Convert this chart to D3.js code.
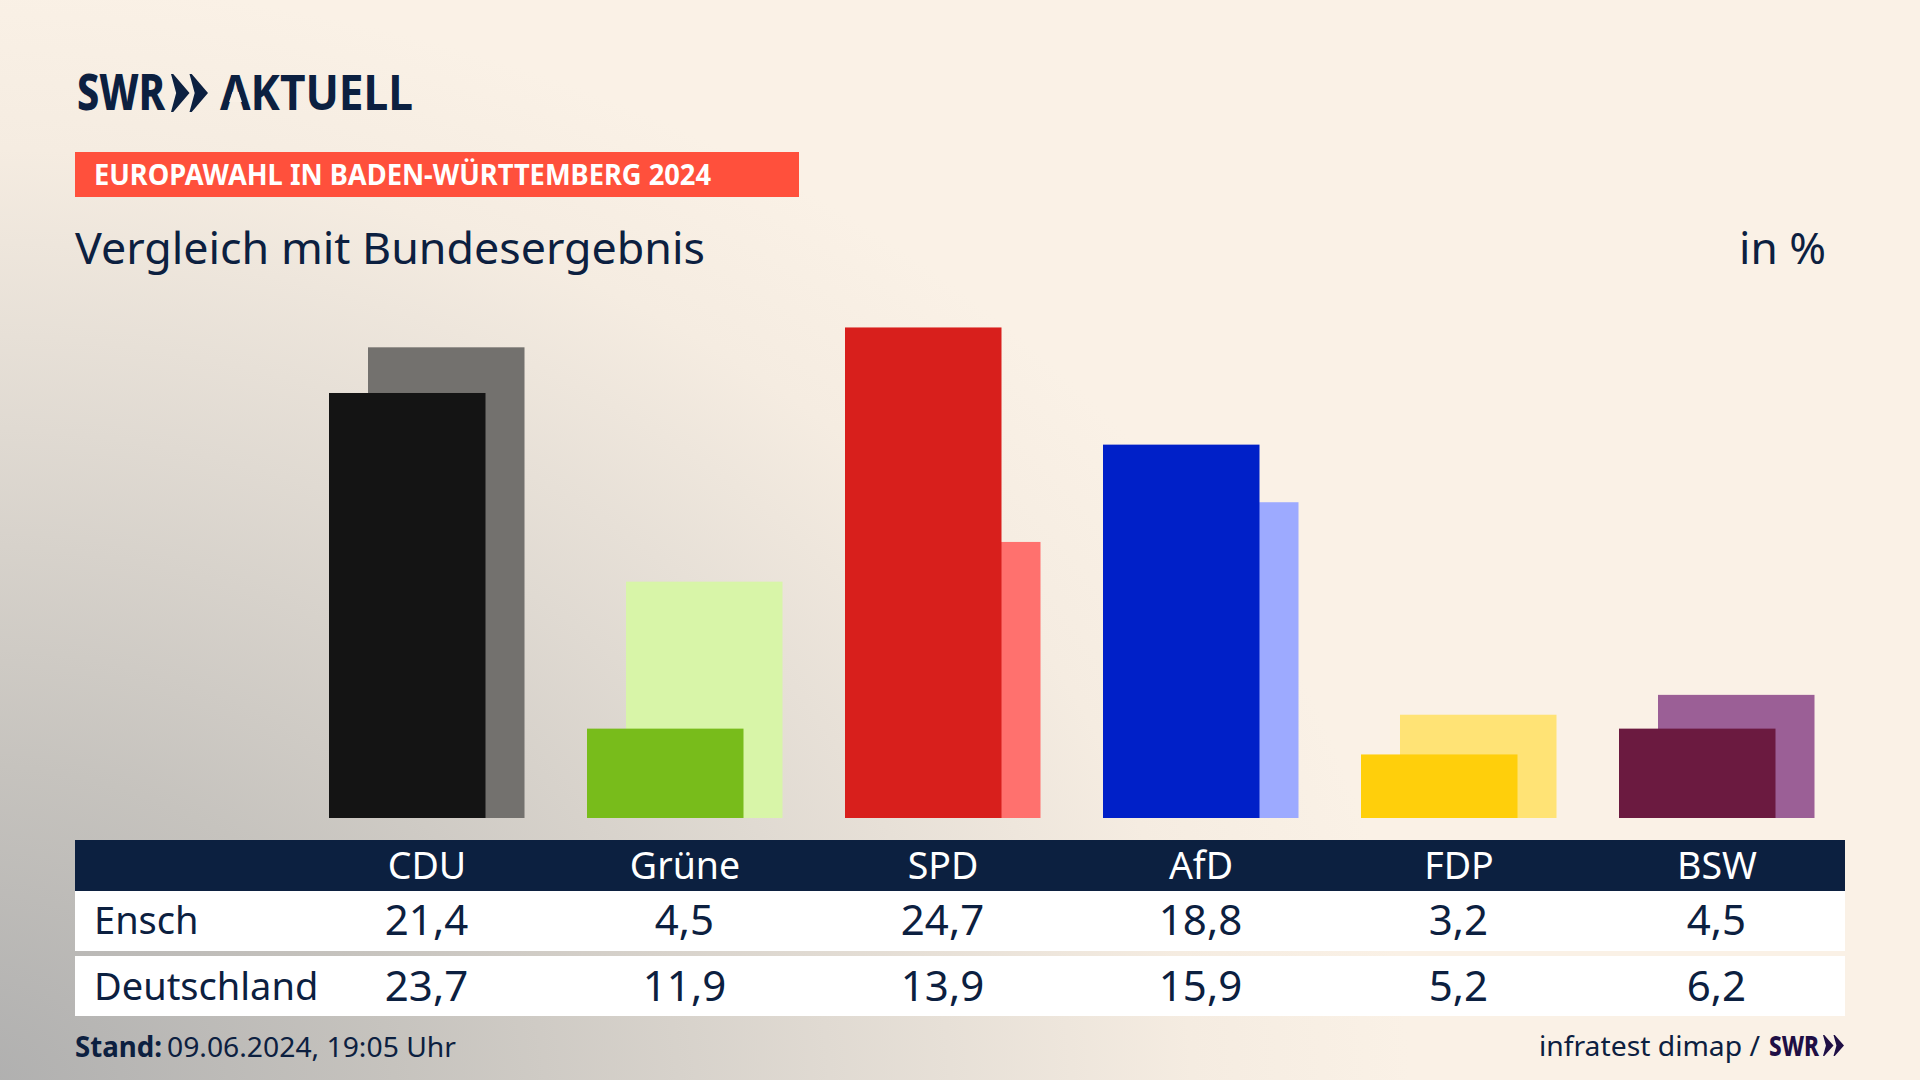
<!DOCTYPE html>
<html>
<head>
<meta charset="utf-8">
<script src="https://cdn.jsdelivr.net/npm/d3@7"></script>
<style>
    html, body { margin: 0; padding: 0; background: #faf1e6; }
    svg { display: block; }
    text { font-family: "Noto Sans", sans-serif; fill: #0c2040; }
</style>
</head>
<body>
<div id="chart"></div>
<script>
// Data.
var categories = ["CDU", "Grüne", "SPD", "AfD", "FDP", "BSW"];
var ensch = [21.4, 4.5, 24.7, 18.8, 3.2, 4.5];
var deutschland = [23.7, 11.9, 13.9, 15.9, 5.2, 6.2];
var rowLabels = ["Ensch", "Deutschland"];

var darkColors = ["#141414", "#78bc1b", "#d81f1c", "#0020c8", "#ffcf0b", "#6b1a40"];
var lightColors = ["#73716e", "#d8f5a8", "#ff716e", "#9daaff", "#ffe375", "#9b5f96"];

var svgWidth = 1920;
var svgHeight = 1080;
var navy = "#0c2040";

var svg = d3.select("#chart")
    .append("svg")
    .attr("width", svgWidth)
    .attr("height", svgHeight);

// Background: cream with a grey glow out of the bottom left corner.
var glow = svg.append("defs").append("radialGradient")
    .attr("id", "glow")
    .attr("gradientUnits", "userSpaceOnUse")
    .attr("cx", 0).attr("cy", 0).attr("r", 1)
    .attr("gradientTransform", "translate(-40, 1100) scale(1450, 1120)");
[[0, "#aeaeae"], [0.3, "#c6c3be"], [0.6, "#e0dad2"], [0.85, "#f5ece1"], [1, "#faf1e6"]].forEach(function(s) {
    glow.append("stop").attr("offset", s[0]).attr("stop-color", s[1]);
});
svg.append("rect")
    .attr("width", svgWidth)
    .attr("height", svgHeight)
    .attr("fill", "url(#glow)");

// Text helper, textLength squeezes the font to the width in the picture.
function label(parent, str, x, y, size, width, weight) {
    var t = parent.append("text")
        .attr("x", x)
        .attr("y", y)
        .style("font-size", size + "px")
        .style("font-weight", weight || 400)
        .text(str);
    if (width) {
        t.attr("textLength", width).attr("lengthAdjust", "spacingAndGlyphs");
    }
    return t;
}

// The two arrows of the SWR logo.
function chevrons(x, y, w, h, color) {
    var s = w / 2;
    [0, s].forEach(function(dx) {
        svg.append("polygon")
            .attr("fill", color)
            .attr("points", [
                [x + dx, y],
                [x + dx + s * 0.12, y],
                [x + dx + s, y + h / 2],
                [x + dx + s * 0.12, y + h],
                [x + dx, y + h],
                [x + dx + s * 0.28, y + h / 2]
            ].join(" "));
    });
}

// Header
label(svg, "SWR", 77, 110, 49, 88, 800);
chevrons(171, 74, 37, 38, navy);
label(svg, "AKTUELL", 220, 110, 49, 193, 700);
// the logo's A has no crossbar
svg.append("polygon")
    .attr("fill", "#f9f0e5")
    .attr("points", "232.5,92 238.5,92 242,102 229,102");

svg.append("rect")
    .attr("x", 75).attr("y", 152)
    .attr("width", 724).attr("height", 45)
    .attr("fill", "#ff503c");
label(svg, "EUROPAWAHL IN BADEN-WÜRTTEMBERG 2024", 94, 185, 28, 617, 700).style("fill", "#ffffff");

label(svg, "Vergleich mit Bundesergebnis", 75, 264, 44, 630);
label(svg, "in %", 1739, 264, 44, 87);

// Scales: one band per party, the band centre also carries the table columns.
var xScale = d3.scaleBand()
    .domain(categories)
    .range([298, 1846]);

var yScale = d3.scaleLinear()
    .domain([0, 25])
    .range([818, 321.5]);

var barWidth = 156.5;
var barOffset = 39;

function center(d) {
    return xScale(d) + xScale.bandwidth() / 2;
}

// Bundesergebnis behind, Ensch in front.
svg.append("g").selectAll("rect")
    .data(categories)
    .enter()
    .append("rect")
    .attr("x", d => center(d) - 98 + barOffset)
    .attr("y", (d, i) => yScale(deutschland[i]))
    .attr("width", barWidth)
    .attr("height", (d, i) => yScale(0) - yScale(deutschland[i]))
    .attr("fill", (d, i) => lightColors[i]);

svg.append("g").selectAll("rect")
    .data(categories)
    .enter()
    .append("rect")
    .attr("x", d => center(d) - 98)
    .attr("y", (d, i) => yScale(ensch[i]))
    .attr("width", barWidth)
    .attr("height", (d, i) => yScale(0) - yScale(ensch[i]))
    .attr("fill", (d, i) => darkColors[i]);

// Table
var tableLeft = 75;
var tableWidth = 1770;

svg.append("rect")
    .attr("x", tableLeft).attr("y", 840)
    .attr("width", tableWidth).attr("height", 51)
    .attr("fill", navy);

var bottomAxis = d3.axisBottom(xScale).tickSize(0).tickPadding(0);
var axisGroup = svg.append("g")
    .attr("transform", "translate(0, 879)")
    .call(bottomAxis);
axisGroup.select(".domain").remove();
axisGroup.selectAll("text")
    .attr("y", 0)
    .attr("dy", 0)
    .style("font-family", "\"Noto Sans\", sans-serif")
    .style("font-size", "37.5px")
    .style("fill", "#ffffff");

var commaFormat = d3.formatLocale({ decimal: ",", thousands: ".", grouping: [3], currency: ["", "€"] }).format(".1f");
var rows = [
    { name: rowLabels[0], values: ensch, top: 891, baseline: 935 },
    { name: rowLabels[1], values: deutschland, top: 956, baseline: 1001 }
];

rows.forEach(function(row) {
    svg.append("rect")
        .attr("x", tableLeft).attr("y", row.top)
        .attr("width", tableWidth).attr("height", 60)
        .attr("fill", "#ffffff");
    label(svg, row.name, 94, row.baseline - 1, 38);
    svg.append("g").selectAll("text")
        .data(categories)
        .enter()
        .append("text")
        .attr("x", d => center(d) - 0.5)
        .attr("y", row.baseline)
        .style("font-size", "42px")
        .style("text-anchor", "middle")
        .text((d, i) => commaFormat(row.values[i]));
});

// Footer
label(svg, "Stand:", 75, 1057, 28, 87, 700);
label(svg, "09.06.2024, 19:05 Uhr", 167, 1057, 28, 289);
label(svg, "infratest dimap /", 1539, 1056, 28, 221);
label(svg, "SWR", 1769, 1056, 28, 50, 800).style("fill", "#1f0f45");
chevrons(1823, 1035, 21, 21, "#1f0f45");
</script>
</body>
</html>
